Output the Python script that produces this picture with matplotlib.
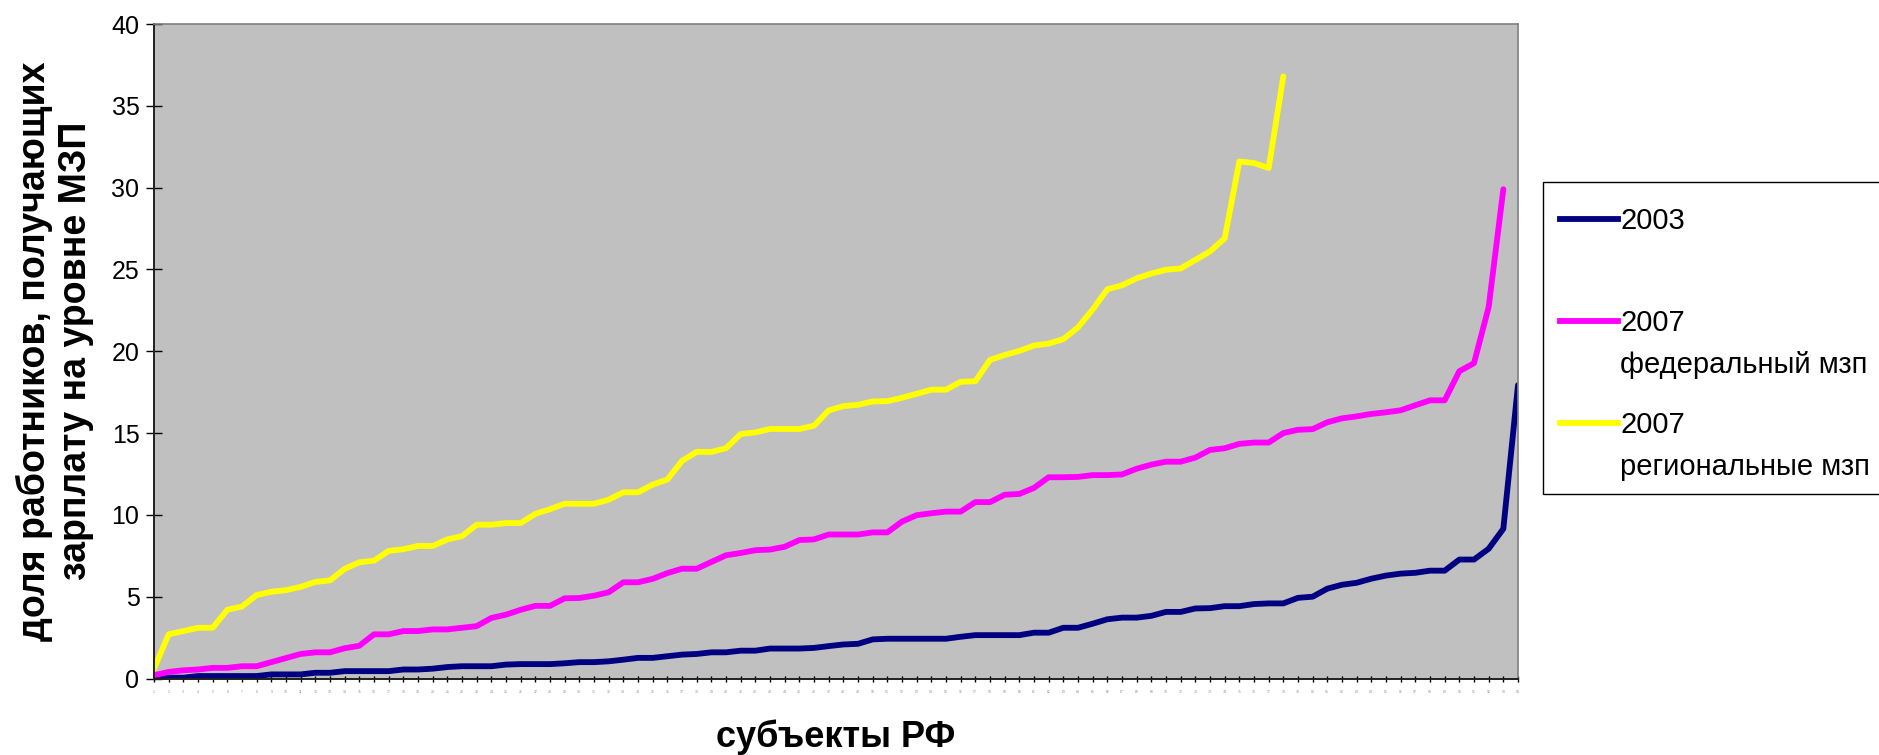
import numpy as np
import matplotlib.pyplot as plt
from matplotlib.lines import Line2D
from matplotlib.patches import Rectangle

plt.rcParams['font.family'] = ['Liberation Sans', 'DejaVu Sans']

# share of workers earning the minimum wage, regions sorted ascending
share_2003 = [0.05, 0.05, 0.05, 0.15, 0.15, 0.15, 0.15, 0.15, 0.25, 0.25,
              0.25, 0.35, 0.35, 0.45, 0.45, 0.45, 0.45, 0.55, 0.55, 0.6,
              0.7, 0.75, 0.75, 0.75, 0.85, 0.88, 0.88, 0.88, 0.93, 1.0,
              1.0, 1.05, 1.15, 1.26, 1.26, 1.36, 1.46, 1.5, 1.6, 1.6,
              1.7, 1.7, 1.83, 1.83, 1.83, 1.87, 1.98, 2.08, 2.12, 2.39,
              2.43, 2.43, 2.43, 2.43, 2.43, 2.55, 2.65, 2.65, 2.65, 2.65,
              2.8, 2.8, 3.1, 3.1, 3.35, 3.62, 3.72, 3.72, 3.83, 4.07,
              4.07, 4.28, 4.3, 4.42, 4.42, 4.55, 4.59, 4.59, 4.93, 5.0,
              5.49, 5.73, 5.85, 6.1, 6.29, 6.41, 6.46, 6.59, 6.59, 7.27,
              7.27, 7.93, 9.15, 17.93]

share_2007_fed = [0.2, 0.4, 0.5, 0.55, 0.65, 0.65, 0.75, 0.75, 1.0, 1.25,
                  1.5, 1.6, 1.6, 1.85, 2.0, 2.7, 2.7, 2.9, 2.9, 3.0,
                  3.0, 3.1, 3.2, 3.7, 3.9, 4.2, 4.44, 4.44, 4.9, 4.92,
                  5.06, 5.27, 5.88, 5.88, 6.09, 6.44, 6.71, 6.71, 7.12, 7.53,
                  7.67, 7.84, 7.88, 8.05, 8.46, 8.5, 8.8, 8.8, 8.8, 8.93,
                  8.93, 9.59, 9.98, 10.1, 10.2, 10.2, 10.78, 10.78, 11.23, 11.28,
                  11.65, 12.3, 12.3, 12.32, 12.43, 12.43, 12.47, 12.82, 13.07, 13.25,
                  13.25, 13.5, 13.97, 14.07, 14.34, 14.42, 14.42, 15.0, 15.2, 15.24,
                  15.66, 15.9, 16.02, 16.17, 16.27, 16.39, 16.7, 17.0, 17.0, 18.78,
                  19.27, 22.7, 29.9]

share_2007_reg = [0.6, 2.7, 2.9, 3.1, 3.1, 4.2, 4.4, 5.1, 5.3, 5.4,
                  5.6, 5.9, 6.0, 6.7, 7.1, 7.2, 7.8, 7.9, 8.1, 8.1,
                  8.5, 8.7, 9.4, 9.4, 9.5, 9.5, 10.06, 10.35, 10.68, 10.68,
                  10.68, 10.93, 11.38, 11.38, 11.85, 12.16, 13.3, 13.85, 13.85, 14.07,
                  14.94, 15.04, 15.25, 15.25, 15.25, 15.45, 16.38, 16.65, 16.73, 16.93,
                  16.95, 17.16, 17.4, 17.65, 17.65, 18.13, 18.17, 19.47, 19.77, 20.02,
                  20.35, 20.47, 20.74, 21.46, 22.55, 23.79, 24.03, 24.46, 24.75, 24.98,
                  25.06, 25.58, 26.1, 26.9, 31.6, 31.5, 31.2, 36.8]

series_labels = ['2003', '2007\nфедеральный мзп', '2007\nрегиональные мзп']
series_colors = ['#000080', '#FF00FF', '#FFFF00']
n_regions = len(share_2003)
y_ticks = list(range(0, 41, 5))

W, H = 1879, 755
fig = plt.figure(figsize=(W / 100, H / 100), dpi=100)
ax = fig.add_axes([154 / W, 1 - 678.5 / H, (1518 - 154) / W, (678.5 - 24) / H])
ax.set_facecolor('#C0C0C0')

for vals, col in zip([share_2003, share_2007_fed, share_2007_reg], series_colors):
    xs = np.arange(1, len(vals) + 1)
    ax.plot(xs, vals, color=col, lw=4.2, solid_joinstyle='round', solid_capstyle='round')

ax.set_xlim(1, n_regions)
ax.set_ylim(0, 40)
ax.set_yticks(y_ticks)
ax.set_xticks(range(1, n_regions + 1))
ax.set_xticklabels([str(i) for i in range(1, n_regions + 1)], fontsize=2.5, color='#909090')
ax.tick_params(axis='y', direction='inout', length=11, width=1, labelsize=18, pad=5)
ax.tick_params(axis='x', direction='inout', length=5, width=1, pad=6)

for s in ['left', 'bottom']:
    ax.spines[s].set_color('#202020')
    ax.spines[s].set_linewidth(1.4)
for s in ['top', 'right']:
    ax.spines[s].set_color('#808080')
    ax.spines[s].set_linewidth(1.2)

fig.text(836 / W, 1 - 746.7 / H, 'субъекты РФ', ha='center', va='baseline',
         fontsize=26, fontweight='bold')
fig.text(55 / W, 1 - 351 / H, 'доля работников, получающих\nзарплату на уровне МЗП',
         rotation=90, ha='center', va='center', multialignment='center',
         fontsize=27, fontweight='bold', linespacing=1.2)

# legend drawn by hand so that it runs off the right edge like the original
fig.add_artist(Rectangle((1543 / W, 1 - 494 / H), 400 / W, (494 - 182) / H,
                         transform=fig.transFigure, facecolor='white',
                         edgecolor='black', lw=1))
for k, (lab, col) in enumerate(zip(series_labels, series_colors)):
    yc = 219 + 102 * k
    fig.add_artist(Line2D([1560 / W, 1618 / W], [1 - yc / H] * 2, color=col, lw=4.2,
                          transform=fig.transFigure))
    fig.text(1620 / W, 1 - (yc + 10) / H, lab.split('\n')[0], fontsize=21, va='baseline')
    if '\n' in lab:
        fig.text(1620 / W, 1 - (yc + 52) / H, lab.split('\n')[1], fontsize=21, va='baseline')

fig.savefig('out.png', dpi=100)
